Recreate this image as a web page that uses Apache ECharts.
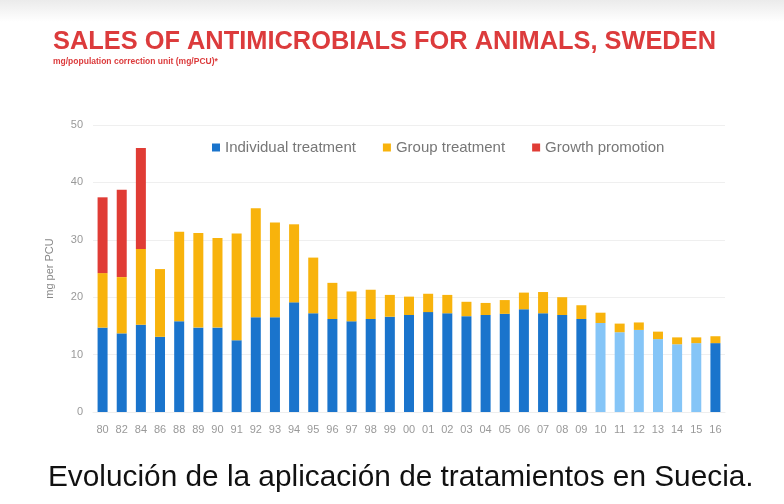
<!DOCTYPE html>
<html><head><meta charset="utf-8">
<script src="https://cdn.jsdelivr.net/npm/echarts@6/dist/echarts.min.js"></script>
<style>html,body{margin:0;padding:0;background:#fff}#c{width:784px;height:504px}</style>
</head><body><div id="c"></div>
<script>
const years = ['80','82','84','86','88','89','90','91','92','93','94','95','96','97','98','99','00','01','02','03','04','05','06','07','08','09','10','11','12','13','14','15','16'];
const individual = [14.7,13.7,15.2,13.1,15.8,14.7,14.7,12.5,16.5,16.5,19.1,17.2,16.2,15.8,16.2,16.6,16.9,17.4,17.2,16.7,16.9,17.1,17.9,17.2,16.9,16.2,15.5,13.9,14.3,12.7,11.8,12.0,12.0];
const totalWithGroup = [24.2,23.5,28.4,24.9,31.4,31.2,30.3,31.1,35.5,33.0,32.7,26.9,22.5,21.0,21.3,20.4,20.1,20.6,20.4,19.2,19.0,19.5,20.8,20.9,20.0,18.6,17.3,15.4,15.6,14.0,13.0,13.0,13.2];
const totalAll = [37.4,38.7,46.0];
const lightYears = ['10','11','12','13','14','15'];

const group = totalWithGroup.map((t,i)=>+(t-individual[i]).toFixed(2));
const growth = years.map((y,i)=> i<totalAll.length ? +(totalAll[i]-totalWithGroup[i]).toFixed(2) : 0);

const BLUE='#1a74cc', LIGHT='#85c5f7', YELLOW='#f8b30c', RED='#e03c35';
const chart = echarts.init(document.getElementById('c'));
chart.setOption({
  backgroundColor:'#ffffff',
  animation:false,
  graphic:[{type:'rect',left:0,top:0,shape:{width:784,height:22},style:{fill:new echarts.graphic.LinearGradient(0,0,0,1,[{offset:0,color:'#ebebeb'},{offset:1,color:'#ffffff'}])},z:-1}],
  title:[
    {text:'SALES OF ANTIMICROBIALS FOR ANIMALS, SWEDEN',left:48,top:24,
     textStyle:{color:'#dc3b3c',fontSize:25.4,fontWeight:'bold',fontFamily:'Liberation Sans'},
     subtext:'mg/population correction unit (mg/PCU)*',itemGap:3,
     subtextStyle:{color:'#dc3b3c',fontSize:8.5,fontWeight:'bold',fontFamily:'Liberation Sans'}},
    {text:'Evolución de la aplicación de tratamientos en Suecia.',left:43,top:458,
     textStyle:{color:'#111',fontSize:29.8,fontWeight:'normal',fontFamily:'Liberation Sans'}}
  ],
  legend:{left:207,top:135,itemWidth:8,itemHeight:8,itemGap:27,icon:'rect',
    textStyle:{color:'#777',fontSize:15,fontFamily:'Liberation Sans'},
    data:[{name:'Individual treatment',itemStyle:{color:BLUE}},'Group treatment','Growth promotion']},
  grid:{left:93,right:59,top:125,bottom:92},
  xAxis:{type:'category',data:years,
    axisLine:{show:true,lineStyle:{color:'#eeeeee'}},axisTick:{show:false},
    axisLabel:{color:'#999',fontSize:11,margin:12,fontFamily:'Liberation Sans'}},
  yAxis:{type:'value',min:0,max:50,interval:10,name:'mg per PCU',nameLocation:'middle',nameGap:38,
    nameTextStyle:{color:'#888',fontSize:11,fontFamily:'Liberation Sans'},
    axisLabel:{color:'#999',fontSize:11,margin:10,fontFamily:'Liberation Sans'},
    splitLine:{lineStyle:{color:'#efefef'}}},
  series:[
    {name:'Individual treatment',type:'bar',stack:'a',barWidth:10,
     data:individual.map((v,i)=>({value:v,itemStyle:{color:lightYears.includes(years[i])?LIGHT:BLUE}})),
     itemStyle:{color:BLUE}},
    {name:'Group treatment',type:'bar',stack:'a',barWidth:10,data:group,itemStyle:{color:YELLOW}},
    {name:'Growth promotion',type:'bar',stack:'a',barWidth:10,data:growth,itemStyle:{color:RED}}
  ]
});
</script></body></html>
